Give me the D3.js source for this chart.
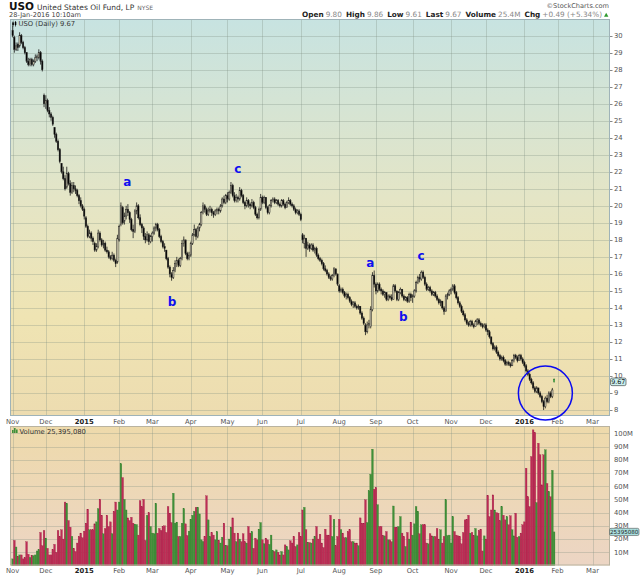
<!DOCTYPE html>
<html>
<head>
<meta charset="utf-8">
<script src="https://cdn.jsdelivr.net/npm/d3@7"></script>
<style>
  body { margin: 0; background: #fff; }
  text { font-family: 'DejaVu Sans', Verdana, sans-serif; }
</style>
</head>
<body>
<div id="chart"></div>
<script>
// daily bars [open, high, low, close], one array per month
const nov14 = [[30.3,30.6,29.9,30.0],[29.9,30.0,29.0,29.2],[29.2,29.6,29.1,29.4],[29.5,29.6,29.1,29.3],[29.4,30.2,29.3,30.0],[30.0,30.1,29.5,29.6],[29.6,29.7,29.2,29.3],[29.3,29.4,28.9,29.0],[29.0,29.0,28.4,28.5],[28.5,28.7,28.2,28.3],[28.3,28.7,28.2,28.6],[28.6,28.7,28.2,28.3],[28.3,28.6,28.2,28.5],[28.5,28.9,28.4,28.7],[28.7,28.9,28.5,28.8],[28.7,29.2,28.6,29.0],[29.0,29.1,28.3,28.5],[28.5,28.6,27.9,28.0],[26.5,26.6,25.8,26.0]]
const dec14 = [[26.0,26.5,25.7,26.2],[26.2,26.3,25.5,25.6],[25.6,25.8,25.2,25.4],[25.4,25.5,25.0,25.2],[25.2,25.3,24.7,24.8],[24.6,24.6,24.0,24.2],[24.2,24.3,23.7,23.8],[23.8,23.9,23.2,23.3],[23.3,23.4,22.5,22.6],[22.5,22.5,21.9,22.0],[22.0,22.3,21.5,21.6],[21.6,21.8,20.9,21.0],[21.1,22.3,21.0,21.9],[21.9,22.0,21.2,21.3],[21.3,21.5,20.6,20.8],[20.8,21.4,20.7,21.2],[21.2,21.4,20.8,21.0],[21.0,21.2,20.7,20.9],[20.9,21.0,20.5,20.6],[20.6,20.7,20.1,20.3],[20.3,20.5,19.9,20.0],[20.0,20.1,19.7,19.8]]
const jan15 = [[19.8,19.9,19.2,19.4],[19.3,19.4,18.7,18.8],[18.8,18.9,18.1,18.2],[18.2,18.6,18.1,18.4],[18.4,18.5,17.9,18.1],[18.1,18.2,17.7,17.9],[17.8,17.9,17.3,17.4],[17.4,17.8,17.3,17.6],[17.6,18.6,17.5,18.4],[18.4,18.5,17.9,18.0],[18.0,18.1,17.6,17.7],[17.7,18.0,17.5,17.8],[17.8,17.9,17.3,17.4],[17.4,17.6,17.2,17.3],[17.3,17.4,16.9,17.0],[17.0,17.1,16.8,16.9],[16.9,17.3,16.8,17.1],[17.1,17.2,16.7,16.8],[16.8,16.9,16.4,16.6],[16.7,18.3,16.6,18.1]]
const feb15 = [[18.0,18.9,17.9,18.8],[18.9,20.2,18.8,20.0],[19.9,20.0,18.9,19.0],[19.1,19.6,18.9,19.4],[19.4,20.0,19.2,19.8],[19.8,20.1,19.4,19.6],[19.6,19.7,19.0,19.2],[19.2,19.3,18.5,18.6],[18.6,18.9,18.1,18.5],[18.5,19.8,18.4,19.7],[19.7,20.2,19.5,20.0],[20.0,20.1,19.2,19.3],[19.3,19.5,18.8,18.9],[18.9,19.0,18.4,18.7],[18.7,18.8,18.0,18.2],[18.2,18.4,17.8,18.0],[18.0,18.5,17.9,18.3],[18.3,18.4,17.7,17.9],[17.9,18.3,17.8,18.2]]
const mar15 = [[18.2,18.5,17.9,18.4],[18.4,18.8,18.3,18.7],[18.7,19.0,18.5,18.9],[18.9,19.0,18.5,18.6],[18.6,18.7,18.1,18.2],[18.2,18.3,17.8,17.9],[17.9,18.0,17.5,17.6],[17.6,17.8,17.3,17.5],[17.4,17.4,16.8,16.9],[16.9,17.0,16.3,16.4],[16.4,16.5,15.8,16.0],[16.0,16.1,15.6,15.8],[15.8,16.4,15.7,16.2],[16.2,16.8,16.1,16.6],[16.6,17.0,16.4,16.8],[16.8,16.9,16.4,16.5],[16.5,17.0,16.4,16.9],[16.9,18.0,16.8,17.8],[17.8,18.2,17.6,18.0],[18.0,18.0,17.1,17.2],[17.2,17.3,16.8,16.9],[16.9,17.3,16.8,17.1]]
const apr15 = [[17.1,17.9,17.0,17.8],[17.8,18.4,17.7,18.3],[18.3,18.9,18.2,18.6],[18.6,18.7,18.0,18.2],[18.2,18.8,18.1,18.7],[18.7,19.0,18.5,18.9],[18.9,19.7,18.8,19.6],[19.6,20.2,19.5,20.0],[20.0,20.1,19.6,19.8],[19.8,19.9,19.4,19.5],[19.5,19.9,19.4,19.7],[19.7,20.0,19.6,19.8],[19.8,19.9,19.4,19.6],[19.6,19.7,19.3,19.5],[19.5,19.8,19.4,19.7],[19.7,19.9,19.5,19.8],[19.8,19.9,19.5,19.7],[19.7,20.1,19.6,20.0],[20.0,20.5,19.9,20.4],[20.4,20.6,20.1,20.2],[20.2,20.7,20.1,20.6]]
const may15 = [[20.6,20.8,20.2,20.4],[20.4,20.9,20.3,20.8],[20.8,21.4,20.7,21.2],[21.2,21.3,20.5,20.6],[20.6,20.8,20.2,20.3],[20.3,20.7,20.2,20.5],[20.5,20.6,20.2,20.4],[20.4,21.1,20.3,20.9],[20.9,21.0,20.5,20.6],[20.6,20.7,20.1,20.2],[20.2,20.3,19.8,20.0],[20.0,20.5,19.9,20.3],[20.3,20.4,19.9,20.1],[20.1,20.2,19.8,20.0],[20.0,20.4,19.9,20.2],[20.2,20.3,19.8,19.9],[19.9,20.0,19.4,19.5],[19.5,19.6,19.2,19.3],[19.3,19.9,19.2,19.8],[19.8,20.7,19.7,20.5]]
const jun15 = [[20.5,20.6,20.1,20.2],[20.2,20.6,20.1,20.5],[20.5,20.5,19.8,19.9],[19.9,20.0,19.5,19.6],[19.6,20.1,19.5,20.0],[20.0,20.4,19.9,20.3],[20.3,20.5,20.2,20.4],[20.4,20.5,20.1,20.2],[20.2,20.4,20.1,20.3],[20.3,20.4,20.0,20.1],[20.1,20.2,19.9,20.0],[20.0,20.4,19.9,20.3],[20.3,20.4,20.0,20.1],[20.1,20.2,19.8,19.9],[19.9,20.3,19.9,20.2],[20.2,20.5,20.1,20.3],[20.3,20.4,20.0,20.1],[20.1,20.2,19.9,20.0],[20.0,20.1,19.7,19.8],[19.8,19.9,19.5,19.6],[19.6,19.8,19.5,19.7],[19.7,19.8,19.4,19.5]]
const jul15 = [[19.5,19.6,19.1,19.2],[18.3,18.4,17.8,18.0],[17.8,18.3,17.5,18.1],[18.1,18.1,17.0,17.5],[17.5,17.9,17.4,17.7],[17.7,17.8,17.3,17.5],[17.5,17.8,17.4,17.7],[17.7,17.8,17.3,17.4],[17.4,17.6,17.2,17.5],[17.5,17.6,17.0,17.1],[17.1,17.2,16.8,16.9],[16.9,17.0,16.7,16.8],[16.8,16.9,16.5,16.6],[16.6,16.7,16.2,16.3],[16.3,16.5,16.1,16.2],[16.2,16.3,15.9,16.0],[16.0,16.1,15.7,15.8],[15.8,15.9,15.6,15.7],[15.7,16.0,15.6,15.9],[15.9,16.4,15.8,16.3],[16.3,16.3,15.9,16.0],[16.0,16.0,15.3,15.4]]
const aug15 = [[15.3,15.4,14.9,15.0],[15.0,15.2,14.9,15.1],[15.1,15.2,14.8,14.9],[14.9,15.0,14.6,14.7],[14.7,14.9,14.5,14.8],[14.8,14.9,14.5,14.6],[14.6,14.7,14.3,14.4],[14.4,14.5,14.1,14.2],[14.2,14.4,14.0,14.3],[14.3,14.4,14.0,14.1],[14.1,14.2,13.9,14.0],[14.0,14.2,13.9,14.1],[14.1,14.1,13.6,13.7],[13.7,13.8,13.3,13.4],[13.4,13.5,13.0,13.1],[13.0,13.1,12.4,12.6],[12.6,13.2,12.5,13.0],[13.0,13.3,12.8,13.1],[12.9,14.1,12.8,13.9],[13.9,16.1,13.8,15.9],[15.9,16.2,15.2,15.4]]
const sep15 = [[15.4,15.5,14.8,15.0],[15.0,15.5,14.9,15.4],[15.4,15.5,15.0,15.1],[15.1,15.2,14.8,15.0],[15.0,15.1,14.7,14.8],[14.8,15.0,14.6,14.9],[14.9,14.9,14.4,14.5],[14.5,14.8,14.4,14.7],[14.7,14.8,14.5,14.6],[14.6,14.8,14.4,14.5],[14.5,15.4,14.5,15.3],[15.3,15.4,14.9,15.0],[15.0,15.0,14.4,14.5],[14.5,15.0,14.4,14.9],[14.9,15.2,14.8,15.1],[15.1,15.1,14.6,14.7],[14.7,14.8,14.4,14.5],[14.5,14.7,14.4,14.6],[14.6,14.7,14.3,14.4],[14.4,14.9,14.3,14.8],[14.8,14.9,14.4,14.6]]
const oct15 = [[14.6,14.8,14.3,14.7],[14.7,15.1,14.6,15.0],[15.0,15.6,14.9,15.5],[15.5,15.9,15.4,15.8],[15.8,16.0,15.5,15.7],[15.7,16.2,15.6,16.1],[16.1,16.2,15.7,15.8],[15.8,15.9,15.3,15.4],[15.4,15.5,15.0,15.1],[15.1,15.3,15.0,15.2],[15.2,15.3,14.9,15.0],[15.0,15.1,14.7,14.8],[14.8,15.0,14.7,14.9],[14.9,15.0,14.6,14.7],[14.7,14.8,14.4,14.5],[14.5,14.6,14.2,14.3],[14.3,14.5,14.1,14.4],[14.4,14.4,13.9,14.0],[14.0,14.1,13.6,13.8],[13.8,14.8,13.8,14.7],[14.7,14.9,14.5,14.8],[14.8,15.1,14.7,15.0]]
const nov15 = [[15.0,15.2,14.8,15.1],[15.1,15.4,15.0,15.3],[15.3,15.4,14.8,14.9],[14.9,15.0,14.5,14.6],[14.6,14.7,14.2,14.3],[14.3,14.4,14.0,14.1],[14.1,14.2,13.7,13.8],[13.8,13.9,13.5,13.6],[13.6,13.7,13.2,13.3],[13.3,13.4,13.0,13.1],[13.1,13.2,12.9,13.0],[13.0,13.3,12.9,13.2],[13.2,13.3,12.9,13.0],[13.0,13.1,12.8,12.9],[12.9,13.3,12.9,13.2],[13.2,13.4,13.0,13.3],[13.3,13.4,13.0,13.1],[13.1,13.2,12.9,13.0],[13.0,13.1,12.8,12.9],[12.9,13.1,12.8,13.0]]
const dec15 = [[13.0,13.1,12.6,12.7],[12.7,12.8,12.4,12.6],[12.6,12.7,12.2,12.3],[12.3,12.3,11.8,11.9],[11.9,12.0,11.5,11.6],[11.6,11.8,11.5,11.7],[11.7,11.8,11.3,11.4],[11.4,11.5,11.1,11.2],[11.2,11.3,10.9,11.0],[11.0,11.2,10.9,11.1],[11.1,11.2,10.8,10.9],[10.9,11.0,10.6,10.7],[10.7,10.9,10.6,10.8],[10.8,10.9,10.6,10.7],[10.7,10.8,10.5,10.6],[10.6,11.0,10.6,10.9],[10.9,11.3,10.8,11.2],[11.2,11.3,11.0,11.1],[11.1,11.2,10.8,10.9],[10.9,11.3,10.9,11.2],[11.2,11.3,10.9,11.0],[11.0,11.1,10.7,10.8]]
const jan16 = [[10.8,10.9,10.5,10.6],[10.6,10.7,10.2,10.3],[10.3,10.4,10.0,10.1],[10.1,10.2,9.7,9.8],[9.8,9.9,9.5,9.6],[9.6,9.7,9.2,9.3],[9.3,9.4,9.0,9.1],[9.1,9.4,9.0,9.3],[9.3,9.3,8.9,9.0],[9.0,9.1,8.7,8.8],[8.8,8.9,8.4,8.5],[8.5,8.6,8.0,8.2],[8.2,8.8,8.1,8.7],[8.7,8.9,8.4,8.5],[8.5,9.1,8.4,9.0],[9.0,9.1,8.7,8.8],[8.8,9.3,8.7,9.18],[9.80,9.86,9.61,9.67]]

// daily volume, millions of shares
const volNov14 = [5,19,14,7,8,8,5,6,18,8.5,6,7.5,7.5,8,11,12,25,15,26.5]
const volDec14 = [20.7,13,8,8,12,16,10,26.5,22,27,20,48,47,34,29,22,13,10.6,17,22,24.5,21]
const volJan15 = [26,32,42.6,27,27,27,31.5,33,43,50,38,24,28,38,29.5,33,24,41,48,42]
const volFeb15 = [48,77,66.5,50,42,36,34,36.5,32,31,31,23,49,44.6,50,19,38,40,29.5]
const volMar15 = [24.5,24,47,24.5,28,26.5,29.5,30,25,44.6,39.6,32.5,54.7,32,32.8,22,22,32,43,31.5,22.7,26]
const volApr15 = [35,38,41,44,44,39,19.4,18,22,52.7,34.5,22,25,23,19.4,25.7,19,17,21.4,32,15]
const volMay15 = [15,20,29,36,24.5,18,24.5,20,18,24,18,17,29.5,24.5,25.7,13,20.7,19.4,27.5,32.5]
const volJun15 = [19.4,16.4,20.7,19.4,16,23,11.3,10.6,11.8,10,8,10.6,8,15.6,14.4,11.8,18.7,17,22,14.4,15.6,25]
const volJul15 = [22,42,44,27,17.4,17.4,17,20,22,29.5,20,23.7,17,13.6,27.5,23,23,38,22,35,15,22]
const volAug15 = [35,27,24.5,21,21,25.7,27,18,18,17,17,15,36,32,32,49.7,32.5,56.5,69,88,57.7]
const volSep15 = [59,46,29.5,29.5,22.7,22.4,25.7,19.4,19.4,18,45,29,29,29.5,37,24.5,22,14.4,25,20,32.8]
const volOct15 = [23,31.5,44.6,41,24,30.8,30.8,30.8,17,16.4,24,22.4,22,22,28,20,27,17,22,49.7,22.7,23]
const volNov15 = [17,37,25.7,23,22.4,22,16.4,25,34.5,35,38,24.5,25,22.7,28,22.4,26.5,27.5,11,22.4]
const volDec15 = [20,53,37,42,53.4,42,40,39.6,34,44.6,38,34.5,37,30.8,37.6,27,22.4,39.6,21.4,22,24.5,30.8]
const volJan16 = [33,73.6,52,44.6,82.4,102.6,100.6,47.6,92.5,83.7,61,83.7,87.5,62,56,52,72,25.4]

const holidays = ['2014-11-27', '2014-12-25', '2015-01-01', '2015-01-19', '2015-02-16', '2015-04-03', '2015-05-25', '2015-07-03', '2015-09-07', '2015-11-26', '2015-12-25', '2016-01-01', '2016-01-18', '2016-02-15']

const priceTicks = [8, 9, 10, 11, 12, 13, 14, 15, 16, 17, 18, 19, 20, 21, 22, 23, 24, 25, 26, 27, 28, 29, 30]
const volumeTicks = [10, 20, 30, 40, 50, 60, 70, 80, 90, 100]
const volumeTickLabels = ['10M', '20M', '30M', '40M', '50M', '60M', '70M', '80M', '90M', '100M']

// Elliott wave notes: label, trading-day index, price level
const waveLabels = ['a', 'b', 'c', 'a', 'b', 'c']
const waveDay = [65.6, 91.3, 128.9, 204.8, 223.7, 233.8]
const waveLevel = [21.42, 14.35, 22.15, 16.66, 13.49, 17.05]
const circleDay = 305
const circleLevel = 9.0

const width = 640
const height = 576
const plot = { left: 10, right: 610, top: 19, bottom: 416 }
const volPlot = { top: 426, bottom: 565.5 }

const parseDay = d3.timeParse('%Y-%m-%d')
const formatDay = d3.timeFormat('%Y-%m-%d')
const tradingDays = d3.timeDay
  .range(parseDay('2014-11-03'), parseDay('2016-03-16'))
  .filter(d => d.getDay() !== 0 && d.getDay() !== 6 && !holidays.includes(formatDay(d)))

const ohlc = [].concat(nov14, dec14, jan15, feb15, mar15, apr15, may15, jun15, jul15, aug15, sep15, oct15, nov15, dec15, jan16)
const volumes = [].concat(volNov14, volDec14, volJan15, volFeb15, volMar15, volApr15, volMay15, volJun15, volJul15, volAug15, volSep15, volOct15, volNov15, volDec15, volJan16)

const bars = ohlc.map((d, i) => ({
  i: i,
  date: tradingDays[i],
  open: d[0],
  high: d[1],
  low: d[2],
  close: d[3],
  volume: volumes[i],
  up: i === 0 ? true : d[3] >= ohlc[i - 1][3]
}))

const monthStarts = tradingDays
  .map((d, i) => ({ date: d, i: i }))
  .filter((d, i, arr) => i === 0 || d.date.getMonth() !== arr[i - 1].date.getMonth())

const x = d3.scaleLinear().domain([-1.5, 342]).range([plot.left, plot.right])
const y = d3.scaleLinear().domain([7.65, 30.98]).range([plot.bottom, plot.top])
const yVol = d3.scaleLinear().domain([0, 105]).range([volPlot.bottom, volPlot.bottom - 105 * 1.322])

const svg = d3
  .select('#chart')
  .append('svg')
  .attr('width', width)
  .attr('height', height)
  .style('display', 'block')
  .style('background', '#fff')

const defs = svg.append('defs')

const priceGrad = defs
  .append('linearGradient')
  .attr('id', 'price-bg')
  .attr('x1', 0).attr('y1', 0).attr('x2', 0).attr('y2', 1)
priceGrad.selectAll('stop')
  .data([['0%', '#c7e3e1'], ['45%', '#e4e5c6'], ['75%', '#efe4b3'], ['100%', '#eddcb0']])
  .join('stop')
  .attr('offset', d => d[0])
  .attr('stop-color', d => d[1])

const volGrad = defs
  .append('linearGradient')
  .attr('id', 'vol-bg')
  .attr('x1', 0).attr('y1', 0).attr('x2', 0).attr('y2', 1)
volGrad.selectAll('stop')
  .data([['0%', '#eedaab'], ['100%', '#ecd5c4']])
  .join('stop')
  .attr('offset', d => d[0])
  .attr('stop-color', d => d[1])

// panels
svg.append('rect')
  .attr('x', plot.left).attr('y', plot.top)
  .attr('width', plot.right - plot.left).attr('height', plot.bottom - plot.top)
  .attr('fill', 'url(#price-bg)')

svg.append('rect')
  .attr('x', plot.left).attr('y', volPlot.top)
  .attr('width', plot.right - plot.left).attr('height', volPlot.bottom - volPlot.top)
  .attr('fill', 'url(#vol-bg)')

// grid
const grid = svg.append('g').attr('stroke', '#7d8f80').attr('stroke-opacity', 0.3).attr('stroke-width', 1)

grid.selectAll('.hgrid')
  .data(priceTicks)
  .join('line')
  .attr('x1', plot.left).attr('x2', plot.right)
  .attr('y1', d => Math.round(y(d)) + 0.5).attr('y2', d => Math.round(y(d)) + 0.5)

grid.selectAll('.vgrid')
  .data(volumeTicks)
  .join('line')
  .attr('x1', plot.left).attr('x2', plot.right)
  .attr('y1', d => Math.round(yVol(d)) + 0.5).attr('y2', d => Math.round(yVol(d)) + 0.5)

monthStarts.forEach(m => {
  const xm = Math.round(x(m.i)) + 0.5
  grid.append('line').attr('x1', xm).attr('x2', xm).attr('y1', plot.top).attr('y2', plot.bottom)
  grid.append('line').attr('x1', xm).attr('x2', xm).attr('y1', volPlot.top).attr('y2', volPlot.bottom)
})

// candlesticks
const bodyW = 1.3
const candles = svg.append('g')
  .selectAll('g')
  .data(bars)
  .join('g')

candles.append('line')
  .attr('x1', d => x(d.i)).attr('x2', d => x(d.i))
  .attr('y1', d => y(d.high)).attr('y2', d => y(d.low))
  .attr('stroke', d => d.i === bars.length - 1 ? '#2a7a2a' : '#1a1a1a')
  .attr('stroke-width', 0.8)

candles.append('rect')
  .attr('x', d => x(d.i) - bodyW / 2)
  .attr('y', d => y(Math.max(d.open, d.close)))
  .attr('width', bodyW)
  .attr('height', d => Math.max(0.8, Math.abs(y(d.open) - y(d.close))))
  .attr('fill', d => {
    if (d.i === bars.length - 1) return '#7ddc7d'
    return d.close >= d.open ? '#d8d2b8' : '#000'
  })
  .attr('stroke', d => d.i === bars.length - 1 ? '#2a7a2a' : '#222')
  .attr('stroke-width', 0.5)

// volume bars
svg.append('g')
  .selectAll('rect')
  .data(bars)
  .join('rect')
  .attr('x', d => x(d.i) - 0.85)
  .attr('y', d => yVol(d.volume))
  .attr('width', 1.7)
  .attr('height', d => yVol(0) - yVol(d.volume))
  .attr('fill', d => d.up ? '#3f9038' : '#bd2c55')
  .attr('stroke', d => d.up ? '#2e7a2a' : '#9e1c42')
  .attr('stroke-width', 0.3)

// panel borders
svg.append('rect')
  .attr('x', plot.left + 0.5).attr('y', plot.top + 0.5)
  .attr('width', plot.right - plot.left - 1).attr('height', plot.bottom - plot.top - 1)
  .attr('fill', 'none').attr('stroke', '#9fb3b8').attr('stroke-width', 1)

svg.append('rect')
  .attr('x', plot.left + 0.5).attr('y', volPlot.top + 0.5)
  .attr('width', plot.right - plot.left - 1).attr('height', volPlot.bottom - volPlot.top - 1)
  .attr('fill', 'none').attr('stroke', '#b9b3a0').attr('stroke-width', 1)

// right axes
const axisG = svg.append('g').attr('font-size', 6.8).attr('fill', '#555')

axisG.selectAll('.ptick')
  .data(priceTicks)
  .join('text')
  .attr('x', plot.right + 4)
  .attr('y', d => y(d))
  .attr('dy', '0.35em')
  .text(d => d)

axisG.selectAll('.vtick')
  .data(volumeTicks)
  .join('text')
  .attr('x', plot.right + 4)
  .attr('y', d => yVol(d))
  .attr('dy', '0.35em')
  .text((d, i) => volumeTickLabels[i])

svg.append('g')
  .attr('stroke', '#888')
  .selectAll('line')
  .data(priceTicks)
  .join('line')
  .attr('x1', plot.right).attr('x2', plot.right + 2.5)
  .attr('y1', d => Math.round(y(d)) + 0.5).attr('y2', d => Math.round(y(d)) + 0.5)

// month labels under both panels
const monthFmt = d3.timeFormat('%b')
const yearFmt = d3.timeFormat('%Y')
;[plot.bottom + 8, volPlot.bottom + 7.5].forEach(ty => {
  svg.append('g')
    .selectAll('text')
    .data(monthStarts)
    .join('text')
    .attr('x', d => x(d.i))
    .attr('y', ty)
    .attr('text-anchor', 'middle')
    .attr('font-size', 6.8)
    .attr('fill', d => d.date.getMonth() === 0 ? '#222' : '#555')
    .attr('font-weight', d => d.date.getMonth() === 0 ? 'bold' : 'normal')
    .text(d => d.date.getMonth() === 0 ? yearFmt(d.date) : monthFmt(d.date))
})

// last value markers
const last = bars[bars.length - 1]
const lastG = svg.append('g').attr('font-family', 'Liberation Sans, Arial, sans-serif')
lastG.append('rect')
  .attr('x', plot.right + 0.5).attr('y', y(last.close) - 3.6)
  .attr('width', 15.5).attr('height', 7.6).attr('rx', 1.5)
  .attr('fill', '#c9eeee').attr('stroke', '#333').attr('stroke-width', 0.6)
lastG.append('text')
  .attr('x', plot.right + 8.3).attr('y', y(last.close)).attr('dy', '0.35em')
  .attr('text-anchor', 'middle').attr('font-size', 6.4).attr('fill', '#111')
  .text(d3.format('.2f')(last.close))

lastG.append('rect')
  .attr('x', plot.right - 0.5).attr('y', yVol(last.volume) - 3.6)
  .attr('width', 29.5).attr('height', 7.2).attr('rx', 1.5)
  .attr('fill', '#a9dede').attr('stroke', '#555').attr('stroke-width', 0.6)
lastG.append('text')
  .attr('x', plot.right + 14.2).attr('y', yVol(last.volume)).attr('dy', '0.35em')
  .attr('text-anchor', 'middle').attr('font-size', 5.6).attr('fill', '#222')
  .text('25395080')

// wave annotations
svg.append('g')
  .selectAll('text')
  .data(waveLabels)
  .join('text')
  .attr('x', (d, i) => x(waveDay[i]))
  .attr('y', (d, i) => y(waveLevel[i]))
  .attr('dy', '0.35em')
  .attr('text-anchor', 'middle')
  .attr('font-family', 'Liberation Sans, Arial, sans-serif')
  .attr('font-size', 12)
  .attr('font-weight', 'bold')
  .attr('fill', '#1010ee')
  .text(d => d)

svg.append('circle')
  .attr('cx', x(circleDay))
  .attr('cy', y(circleLevel))
  .attr('r', 27)
  .attr('fill', 'none')
  .attr('stroke', '#0a0af0')
  .attr('stroke-width', 1.5)

// panel legends
const legend = svg.append('g').attr('font-size', 6.8).attr('fill', '#333')
legend.append('path')
  .attr('d', 'M13,21.5v5M15.5,21v5.5')
  .attr('stroke', '#222').attr('stroke-width', 0.8)
legend.append('rect').attr('x', 12.3).attr('y', 22.5).attr('width', 1.5).attr('height', 2.5).attr('fill', '#000')
legend.append('rect').attr('x', 14.8).attr('y', 22).attr('width', 1.5).attr('height', 3).attr('fill', '#000')
legend.append('text').attr('x', 18.5).attr('y', 26).text('USO (Daily) 9.67')

legend.append('rect').attr('x', 12).attr('y', 430).attr('width', 1.6).attr('height', 3).attr('fill', '#3f9038')
legend.append('rect').attr('x', 14).attr('y', 428).attr('width', 1.6).attr('height', 5).attr('fill', '#3f9038')
legend.append('rect').attr('x', 16).attr('y', 429.5).attr('width', 1.6).attr('height', 3.5).attr('fill', '#3f9038')
legend.append('text').attr('x', 19.5).attr('y', 433.5).text('Volume 25,395,080')

// header
const head = svg.append('g').attr('font-family', 'Liberation Sans, Arial, sans-serif')
const title = head.append('text').attr('x', 9).attr('y', 10)
title.append('tspan').attr('font-size', 10.5).attr('font-weight', 'bold').attr('fill', '#111').text('USO')
title.append('tspan').attr('dx', 3).attr('font-size', 7.5).attr('fill', '#333').text('United States Oil Fund, LP')
title.append('tspan').attr('dx', 3).attr('font-size', 6).attr('fill', '#666').text('NYSE')

head.append('text')
  .attr('x', 9).attr('y', 17.2)
  .attr('font-size', 6.6).attr('fill', '#444')
  .text('28-Jan-2016 10:10am')

head.append('text')
  .attr('x', 609).attr('y', 8)
  .attr('text-anchor', 'end')
  .attr('font-size', 6.6).attr('fill', '#555')
  .text('©StockCharts.com')

const quote = [['Open', '9.80'], ['High', '9.86'], ['Low', '9.61'], ['Last', '9.67'], ['Volume', '25.4M'], ['Chg', '+0.49 (+5.34%)']]
const quoteText = head.append('text')
  .attr('x', 602).attr('y', 17.3)
  .attr('text-anchor', 'end')
  .attr('font-size', 7.3)
quote.forEach((q, k) => {
  quoteText.append('tspan').attr('dx', k === 0 ? 0 : 4).attr('font-weight', 'bold').attr('fill', '#222').text(q[0])
  quoteText.append('tspan').attr('dx', 2).attr('fill', '#888').text(q[1])
})
head.append('path')
  .attr('d', 'M604,16.8l2.2,-4l2.2,4z')
  .attr('fill', '#2f9a2f')
</script>
</body>
</html>
